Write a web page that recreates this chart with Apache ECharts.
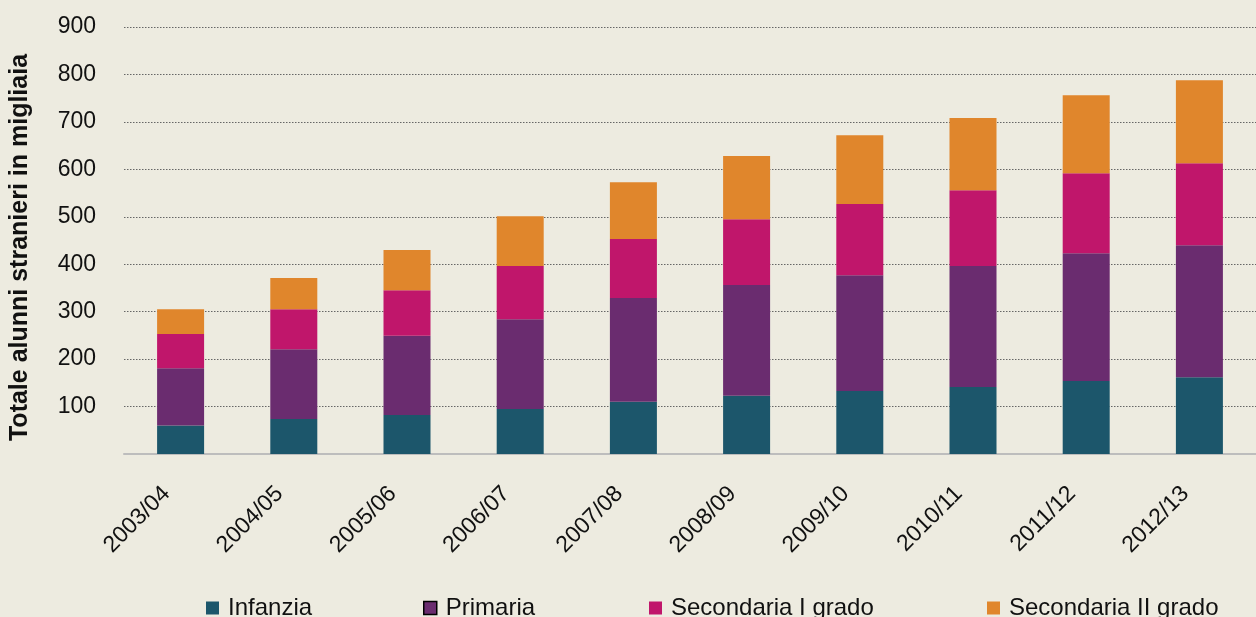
<!DOCTYPE html>
<html>
<head>
<meta charset="utf-8">
<script src="https://cdn.jsdelivr.net/npm/echarts@6/dist/echarts.min.js"></script>
<style>
html,body{margin:0;padding:0;background:#EDEBE0;}
#c{width:1256px;height:617px;}
</style>
</head>
<body>
<div id="c"></div>
<script>
const categories = ['2003/04','2004/05','2005/06','2006/07','2007/08','2008/09','2009/10','2010/11','2011/12','2012/13'];
const infanzia = [60, 74, 82, 95, 110, 123, 133, 141, 154, 162];
const primaria = [121, 147, 167, 189, 219, 233, 244, 255, 269, 278];
const secondariaI = [72, 84, 96, 112, 124, 139, 150, 160, 169, 173];
const secondariaII = [52, 66, 85, 105, 120, 133, 145, 152, 164, 175];
const seriesNames = ['Infanzia','Primaria','Secondaria I grado','Secondaria II grado'];
const yTicks = [0,100,200,300,400,500,600,700,800,900];

const colors = ['#1C566B','#6A2C6F','#C0166B','#E0862C'];
const legendLeft = [206, 423, 649, 987];
const FONT = '"Liberation Sans", Arial, Helvetica, sans-serif';
const chart = echarts.init(document.getElementById('c'));
const dataSets = [infanzia, primaria, secondariaI, secondariaII];
chart.setOption({
  backgroundColor: '#EDEBE0',
  animation: false,
  grid: {left: 124, width: 1143, top: 27, bottom: 163, containLabel: false},
  legend: seriesNames.map((n, i) => ({
    left: legendLeft[i], top: 596, padding: 0,
    itemWidth: 13, itemHeight: 13,
    icon: 'rect',
    textStyle: {fontFamily: FONT, fontSize: 24, color: '#111', padding: [0,0,0,4]},
    data: [i === 1
      ? {name: n, itemStyle: {borderColor: '#000', borderWidth: 1.5}}
      : {name: n}]
  })),
  xAxis: {
    type: 'category',
    data: categories,
    axisLine: {lineStyle: {color: '#BDBDBD', width: 2}},
    axisTick: {show: false},
    axisLabel: {rotate: 45, margin: 22, fontFamily: FONT, fontSize: 23, color: '#111', interval: 0, padding: [0, 20, 0, 0]}
  },
  yAxis: {
    type: 'value',
    min: 0, max: 900, interval: 100,
    name: 'Totale alunni stranieri in migliaia',
    nameLocation: 'middle',
    nameGap: 91,
    nameTextStyle: {fontFamily: FONT, fontSize: 25, fontWeight: 'bold', color: '#111', padding: [0, 14, 0, 0]},
    axisLine: {show: false},
    axisTick: {show: false},
    axisLabel: {
      margin: 28, fontFamily: FONT, fontSize: 23, color: '#111',
      formatter: v => (v === 0 || yTicks.indexOf(v) < 0) ? '' : String(v)
    },
    splitLine: {lineStyle: {color: '#666', type: [1.5, 1.5], width: 1}}
  },
  series: dataSets.map((d, i) => ({
    name: seriesNames[i],
    type: 'bar',
    stack: 'tot',
    barWidth: 47,
    itemStyle: {color: colors[i]},
    data: d
  }))
});
</script>
</body>
</html>
